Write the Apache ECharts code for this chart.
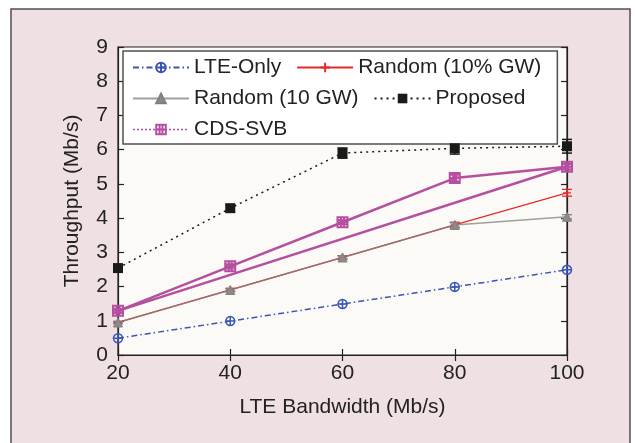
<!DOCTYPE html>
<html>
<head>
<meta charset="utf-8">
<script src="https://cdn.jsdelivr.net/npm/echarts@6/dist/echarts.min.js"></script>
<style>html,body{margin:0;padding:0;background:#fff}#c{width:635px;height:443px}</style>
</head>
<body>
<div id="c"></div>
<script>
const bandwidth = [20, 40, 60, 80, 100];
const lteOnly = [0.49, 0.99, 1.49, 1.99, 2.49];
const random10pct = [0.95, 1.9, 2.85, 3.8, 4.74];
const random10pctErr = [0.03, 0.05, 0.05, 0.08, 0.1];
const random10gw = [0.95, 1.9, 2.85, 3.8, 4.04];
const random10gwErr = [0.03, 0.04, 0.05, 0.06, 0.06];
const proposed = [2.54, 4.29, 5.9, 6.04, 6.1];
const proposedErr = [0.06, 0.1, 0.15, 0.17, 0.2];
const cdsSvb = [1.29, 2.59, 3.88, 5.17, 5.5];
const cdsSvbErr = [0.06, 0.06, 0.06, 0.1, 0.08];
const cdsSvbEnds = [[20, 1.29], [100, 5.5]];
const yTicks = [0, 1, 2, 3, 4, 5, 6, 7, 8, 9];

const FONT = 'Liberation Sans';
const pts = v => bandwidth.map((x, i) => [x, v[i]]);

function errSeries(vals, errs, color, width) {
  return {
    type: 'custom',
    xAxisIndex: 0, yAxisIndex: 0,
    silent: true,
    z: 3,
    data: bandwidth.map((x, i) => [x, vals[i] - errs[i], vals[i] + errs[i]]),
    renderItem: function (params, api) {
      const lo = api.coord([api.value(0), api.value(1)]);
      const hi = api.coord([api.value(0), api.value(2)]);
      const w = 5;
      return {
        type: 'group',
        children: [
          {type: 'line', shape: {x1: lo[0], y1: lo[1], x2: hi[0], y2: hi[1]}, style: {stroke: color, lineWidth: width}},
          {type: 'line', shape: {x1: lo[0] - w, y1: lo[1], x2: lo[0] + w, y2: lo[1]}, style: {stroke: color, lineWidth: width}},
          {type: 'line', shape: {x1: hi[0] - w, y1: hi[1], x2: hi[0] + w, y2: hi[1]}, style: {stroke: color, lineWidth: width}}
        ]
      };
    }
  };
}

const circlePlus = 'path://M0,-10A10,10 0 1,1 0,10A10,10 0 1,1 0,-10Z M-10,0L10,0 M0,-10L0,10';
const plusSym = 'path://M0,-10L0,10 M-10,0L10,0';
const rectHash = 'path://M-10,-10L10,-10L10,10L-10,10Z M-3,-10L-3,10 M3,-10L3,10 M-10,0L10,0';

const chart = echarts.init(document.getElementById('c'), null, {renderer: 'canvas'});
chart.setOption({
  backgroundColor: '#ffffff',
  animation: false,
  graphic: [{
    type: 'rect', z: -10, silent: true,
    shape: {x: 11, y: 9, width: 619, height: 450},
    style: {fill: '#efe0e3', stroke: '#505050', lineWidth: 1.5}
  }],
  grid: {
    left: 118, right: 68, top: 47, bottom: 88,
    show: true, backgroundColor: '#fbfaf6', borderColor: '#222', borderWidth: 1.2
  },
  legend: {
    left: 123, top: 51,
    width: 440,
    orient: 'horizontal',
    backgroundColor: '#ffffff',
    borderColor: '#505050', borderWidth: 1.5,
    padding: [6, 11, 4, 9],
    itemWidth: 56, itemHeight: 12, itemGap: 10,
    textStyle: {fontFamily: FONT, fontSize: 21, color: '#222', lineHeight: 20, padding: [0, 5, 0, 0]},
    data: [
      {name: 'LTE-Only'},
      {name: 'Random (10% GW)'},
      {name: 'Random (10 GW)'},
      {name: 'Proposed'},
      {name: 'CDS-SVB', lineStyle: {type: [2, 2], width: 1.5}}
    ]
  },
  xAxis: [{
    type: 'value', min: 20, max: 100, interval: 20,
    name: 'LTE Bandwidth (Mb/s)', nameLocation: 'middle', nameGap: 42,
    nameTextStyle: {fontFamily: FONT, fontSize: 21, color: '#222'},
    axisLine: {show: true, lineStyle: {color: '#222', width: 1.2}},
    axisTick: {show: true, inside: true, length: 6, lineStyle: {color: '#222', width: 1.2}},
    axisLabel: {fontFamily: FONT, fontSize: 21, color: '#222', margin: 8},
    splitLine: {show: false}
  }, {
    type: 'value', min: 20, max: 100, interval: 20, position: 'top',
    axisLine: {show: true, lineStyle: {color: '#222', width: 1.2}},
    axisTick: {show: true, inside: true, length: 6, lineStyle: {color: '#222', width: 1.2}},
    axisLabel: {show: false}, splitLine: {show: false}
  }],
  yAxis: [{
    type: 'value', min: yTicks[0], max: yTicks[yTicks.length - 1], interval: 1,
    name: 'Throughput (Mb/s)', nameLocation: 'middle', nameGap: 35,
    nameTextStyle: {fontFamily: FONT, fontSize: 21, color: '#222'},
    axisLine: {show: true, lineStyle: {color: '#222', width: 1.2}},
    axisTick: {show: true, inside: true, length: 6, lineStyle: {color: '#222', width: 1.2}},
    axisLabel: {fontFamily: FONT, fontSize: 21, color: '#222', margin: 10},
    splitLine: {show: false}
  }, {
    type: 'value', min: 0, max: 9, interval: 1, position: 'right',
    axisLine: {show: true, lineStyle: {color: '#222', width: 1.2}},
    axisTick: {show: true, inside: true, length: 6, lineStyle: {color: '#222', width: 1.2}},
    axisLabel: {show: false}, splitLine: {show: false}
  }],
  series: [
    {
      name: 'LTE-Only', type: 'line', data: pts(lteOnly),
      color: '#3a56b4',
      lineStyle: {color: '#3a56b4', width: 1.5, type: [6, 3, 1.5, 3]},
      symbol: circlePlus, symbolSize: 9,
      itemStyle: {color: 'rgba(0,0,0,0)', borderColor: '#3a56b4', borderWidth: 1.5},
      z: 4
    },
    {
      name: 'Random (10% GW)', type: 'line', data: pts(random10pct),
      color: '#e62a2a',
      lineStyle: {color: '#e62a2a', width: 1.3},
      symbol: plusSym, symbolSize: 8,
      itemStyle: {color: 'rgba(0,0,0,0)', borderColor: '#e62a2a', borderWidth: 1.3},
      z: 4
    },
    {
      name: 'Random (10 GW)', type: 'line', data: pts(random10gw),
      color: '#808080',
      lineStyle: {color: 'rgba(128,128,128,0.75)', width: 1.5},
      symbol: 'triangle', symbolSize: 9,
      itemStyle: {color: '#8a8a8a', borderColor: '#808080', borderWidth: 1},
      z: 5
    },
    {
      name: 'Proposed', type: 'line', data: pts(proposed),
      color: '#1a1a1a',
      lineStyle: {color: '#1a1a1a', width: 1.5, type: [2, 4]},
      symbol: 'rect', symbolSize: 10,
      itemStyle: {color: '#1a1a1a'},
      z: 5
    },
    {
      name: 'CDS-SVB', type: 'line', data: pts(cdsSvb),
      color: '#b54fa0',
      lineStyle: {color: '#b54fa0', width: 2.5},
      symbol: rectHash, symbolSize: 10,
      itemStyle: {color: 'rgba(0,0,0,0)', borderColor: '#b54fa0', borderWidth: 2},
      z: 6
    },
    {
      name: 'CDS-SVB trend', type: 'line', data: cdsSvbEnds,
      lineStyle: {color: '#b54fa0', width: 2.5},
      symbol: 'none', z: 6
    },
    errSeries(random10pct, random10pctErr, '#e62a2a', 1.3),
    errSeries(random10gw, random10gwErr, '#808080', 1.3),
    errSeries(proposed, proposedErr, '#1a1a1a', 1.5),
    errSeries(cdsSvb, cdsSvbErr, '#b54fa0', 2)
  ]
});
</script>
</body>
</html>
